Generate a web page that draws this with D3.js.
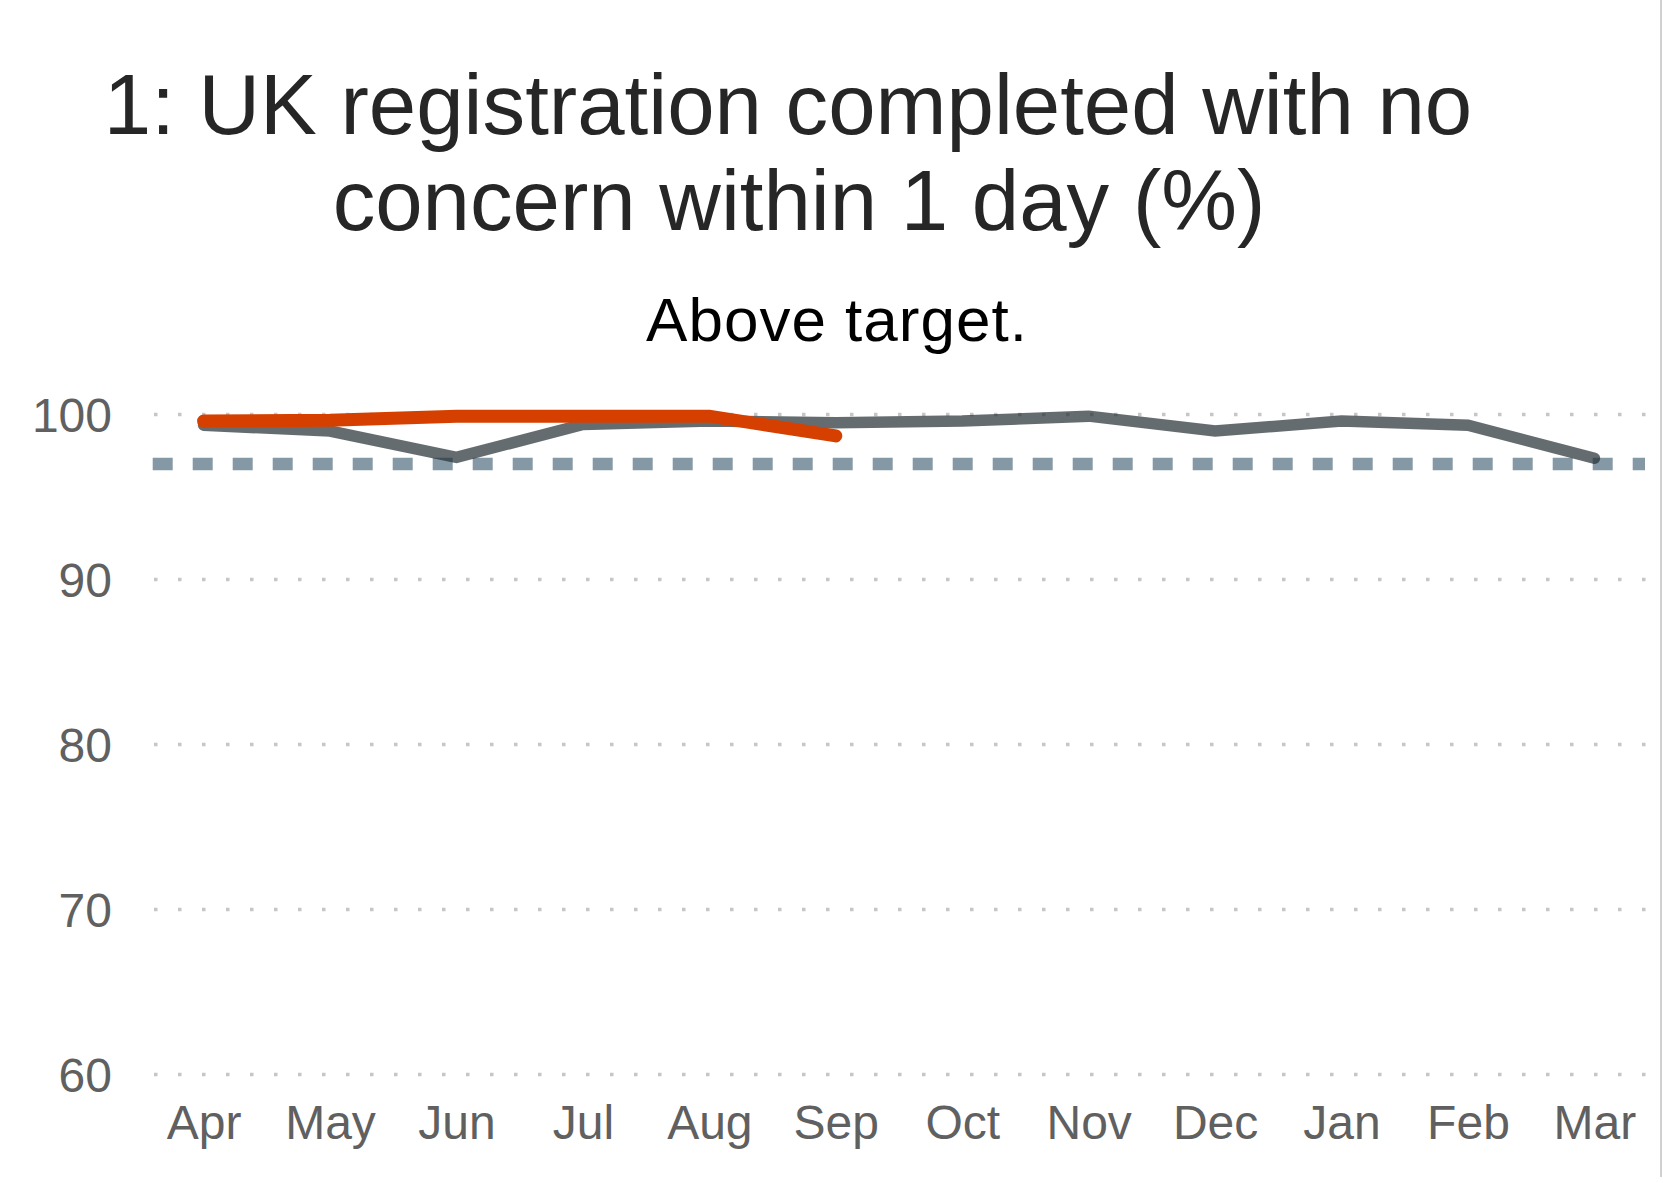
<!DOCTYPE html>
<html>
<head>
<meta charset="utf-8">
<script src="https://cdn.jsdelivr.net/npm/d3@7"></script>
<style>
  html, body { margin: 0; padding: 0; background: #fff; }
  svg { display: block; font-family: "Liberation Sans", Arial, Helvetica, sans-serif; }
</style>
</head>
<body>
<svg id="chart" width="1663" height="1183"></svg>
<script>
// Months of the reporting year
const months = ["Apr", "May", "Jun", "Jul", "Aug", "Sep", "Oct", "Nov", "Dec", "Jan", "Feb", "Mar"];
// Previous year, full twelve months (%)
const previousYear = [99.35, 99.0, 97.4, 99.4, 99.6, 99.5, 99.6, 99.9, 99.0, 99.6, 99.35, 97.35];
// Current year to date (%)
const currentYear = [99.6, 99.65, 99.9, 99.9, 99.9, 98.7];
// Target level (%)
const target = 97;
// Y axis ticks
const yTicks = [60, 70, 80, 90, 100];
const titleLines = ["1: UK registration completed with no", "concern within 1 day (%)"];
const subtitle = "Above target.";

const svg = d3.select("#chart");

const x = d3.scalePoint().domain(months).range([153, 1645]).padding(0.4);
const y = d3.scaleLinear().domain([60, 100]).range([1074.5, 414.5]);

// Right-hand panel border
svg.append("line")
  .attr("x1", 1661).attr("x2", 1661).attr("y1", 0).attr("y2", 1177)
  .attr("stroke", "#d0d0d0").attr("stroke-width", 2);

// Title
svg.append("g").selectAll("text").data(titleLines).join("text")
  .attr("x", (d, i) => i === 0 ? 788 : 799)
  .attr("y", (d, i) => 133.5 + i * 96)
  .attr("text-anchor", "middle")
  .attr("font-size", 85.2)
  .attr("fill", "#262626")
  .text(d => d);

svg.append("text")
  .attr("x", 837).attr("y", 340.5)
  .attr("text-anchor", "middle")
  .attr("font-size", 62)
  .attr("letter-spacing", 1)
  .attr("fill", "#000")
  .text(subtitle);

// Dotted horizontal gridlines
const grid = svg.append("g");
grid.selectAll("line").data(yTicks).join("line")
  .attr("x1", 154).attr("x2", 1646)
  .attr("y1", d => y(d)).attr("y2", d => y(d))
  .attr("stroke", "#c6c6c6")
  .attr("stroke-width", 3.5)
  .attr("stroke-dasharray", "3.5,20.5");

// Y axis labels
const yAxis = svg.append("g").attr("transform", "translate(112,0)")
  .call(d3.axisLeft(y).tickValues(yTicks).tickSize(0).tickPadding(0));
yAxis.select(".domain").remove();
yAxis.selectAll("text")
  .attr("font-size", 48)
  .attr("font-family", "'Liberation Sans', Arial, sans-serif")
  .attr("fill", "#606060")
  .attr("dy", "0.36em");

// X axis labels
const xAxis = svg.append("g").attr("transform", "translate(0,1139)")
  .call(d3.axisBottom(x).tickSize(0).tickPadding(0));
xAxis.select(".domain").remove();
xAxis.selectAll("text")
  .attr("font-size", 48)
  .attr("font-family", "'Liberation Sans', Arial, sans-serif")
  .attr("fill", "#606060")
  .attr("dy", 0);

// Target line
svg.append("line")
  .attr("x1", 152.7).attr("x2", 1645)
  .attr("y1", y(target)).attr("y2", y(target))
  .attr("stroke", "#325569")
  .attr("stroke-opacity", 0.6)
  .attr("stroke-width", 12.5)
  .attr("stroke-dasharray", "20,20");

const line = d3.line().x((d, i) => x(months[i])).y(d => y(d));

// Previous year
svg.append("path")
  .datum(previousYear)
  .attr("d", line)
  .attr("fill", "none")
  .attr("stroke", "#232e33")
  .attr("stroke-opacity", 0.7)
  .attr("stroke-width", 11.5)
  .attr("stroke-linecap", "round")
  .attr("stroke-linejoin", "miter");

// Current year
svg.append("path")
  .datum(currentYear)
  .attr("d", line)
  .attr("fill", "none")
  .attr("stroke", "#d54000")
  .attr("stroke-width", 13)
  .attr("stroke-linecap", "round")
  .attr("stroke-linejoin", "miter");
</script>
</body>
</html>
